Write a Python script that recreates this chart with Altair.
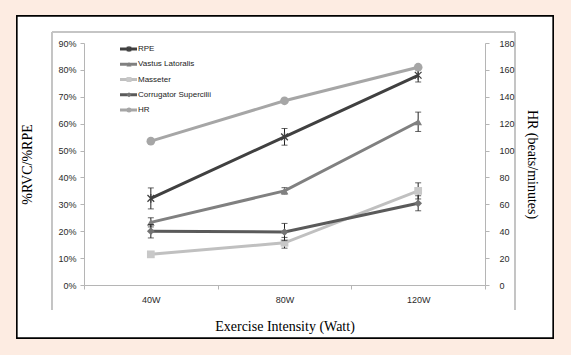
import altair as alt
import pandas as pd

categories = ["40W", "80W", "120W"]
left_series = ["RPE", "Vastus Latoralis", "Masseter", "Corrugator Supercilii"]
all_series = left_series + ["HR"]

rpe = [32.2, 55.1, 78.0]
rpe_err = [3.9, 3.1, 2.5]
vastus = [23.3, 35.0, 60.7]
vastus_err = [1.7, 1.2, 3.6]
masseter = [11.4, 15.7, 35.0]
masseter_err = [1.0, 2.0, 3.0]
corrugator = [20.0, 19.7, 30.4]
corrugator_err = [2.5, 3.2, 2.8]
hr = [107, 137, 162]

left_ticks = [0, 10, 20, 30, 40, 50, 60, 70, 80, 90]
right_ticks = [0, 20, 40, 60, 80, 100, 120, 140, 160, 180]

line_colors = ["#404040", "#808080", "#c0c0c0", "#5a5a5a", "#a6a6a6"]
marker_fills = ["#404040", "#808080", "#c8c8c8", "#737373", "#a6a6a6"]
marker_shapes = ["M-1,-1L1,1M-1,1L1,-1M0,-1.3L0,1.3", "triangle-up", "square", "diamond", "circle"]

rows = []
for name, vals, errs in zip(left_series, [rpe, vastus, masseter, corrugator],
                            [rpe_err, vastus_err, masseter_err, corrugator_err]):
    for c, v, e in zip(categories, vals, errs):
        rows.append({"series": name, "cat": c, "value": v, "lo": v - e, "hi": v + e})
df_left = pd.DataFrame(rows)
df_hr = pd.DataFrame({"series": "HR", "cat": categories, "value": hr})
df_leg = pd.DataFrame({"series": all_series, "idx": list(range(len(all_series)))})

W, H = 401, 242
PL, PT = 84, 43
LABEL_FONT = "Liberation Sans"
LABEL_COLOR = "#2a2a2a"

color_scale = alt.Scale(domain=all_series, range=line_colors)
x_axis = alt.Axis(title="Exercise Intensity (Watt)", tickBand="extent", labelAngle=0,
                  domainColor="#b5b5b5", tickColor="#b5b5b5", tickSize=4, zindex=1,
                  labelFont=LABEL_FONT, labelFontSize=9, labelColor=LABEL_COLOR,
                  labelPadding=6,
                  titleFont="Liberation Serif", titleFontSize=14, titleFontWeight="normal",
                  titleColor="#000000", titleX=W / 2, titleY=41, titleBaseline="middle")
x_scale = alt.Scale(type="band", domain=categories, paddingInner=0, paddingOuter=0)
xs = alt.X("cat:N", sort=categories, scale=x_scale, axis=x_axis)

y_left_scale = alt.Scale(domain=[0, 90])
y_left_axis = alt.Axis(values=left_ticks, labelExpr="datum.value + '%'", orient="left", grid=False,
                       title="%RVC/%RPE", titleFont="Liberation Serif", titleFontSize=14,
                       titleFontWeight="normal", titleColor="#000000", titleAngle=-90,
                       titleX=-57, titleY=H / 2, titleAlign="center", titleBaseline="middle",
                       domainColor="#b5b5b5", tickColor="#b5b5b5", tickSize=4, labelPadding=4,
                       zindex=1, labelOverlap=False,
                       labelFont=LABEL_FONT, labelFontSize=9, labelColor=LABEL_COLOR)
y_right_scale = alt.Scale(domain=[0, 180])
y_right_axis = alt.Axis(values=right_ticks, orient="right", grid=False,
                        title="HR (beats/minutes)", titleFont="Liberation Serif", titleFontSize=14,
                        titleFontWeight="normal", titleColor="#000000", titleAngle=90,
                        titleX=46, titleY=H / 2, titleAlign="center", titleBaseline="middle",
                        domainColor="#b5b5b5", tickColor="#b5b5b5", tickSize=4, labelPadding=10,
                        zindex=1, labelOverlap=False,
                        labelFont=LABEL_FONT, labelFontSize=9, labelColor=LABEL_COLOR)


def yl(field):
    return alt.Y(field, scale=y_left_scale, axis=y_left_axis)


def yr(field):
    return alt.Y(field, scale=y_right_scale, axis=y_right_axis)


# frame decoration
frame = alt.Chart(df_leg).mark_rect(fill="white", stroke="black", strokeWidth=1.3).encode(
    x=alt.value(17 - PL), x2=alt.value(553 - PL), y=alt.value(16 - PT), y2=alt.value(338 - PT))
inner_l = alt.Chart(df_leg).mark_rule(color="#c4c4c4", strokeWidth=1.2).encode(
    x=alt.value(52 - PL), y=alt.value(32 - PT), y2=alt.value(310 - PT))
inner_r = alt.Chart(df_leg).mark_rule(color="#c4c4c4", strokeWidth=1.2).encode(
    x=alt.value(515 - PL), y=alt.value(32 - PT), y2=alt.value(310 - PT))
inner_t = alt.Chart(df_leg).mark_rule(color="#c4c4c4", strokeWidth=1.2).encode(
    x=alt.value(52 - PL), x2=alt.value(515 - PL), y=alt.value(32 - PT))
frame_layer = alt.layer(frame, inner_l, inner_r, inner_t)

left_layers = []
for i, name in enumerate(left_series):
    base = alt.Chart(df_left).transform_filter(alt.datum.series == name)
    line = base.mark_line(strokeWidth=3).encode(
        x=xs, y=yl("value:Q"), color=alt.Color("series:N", scale=color_scale, legend=None))
    err = base.mark_rule(color="#222222", strokeWidth=1).encode(
        x=xs, y=yl("lo:Q"), y2="hi:Q")
    cap_lo = base.mark_tick(color="#222222", thickness=1, size=6).encode(x=xs, y=yl("lo:Q"))
    cap_hi = base.mark_tick(color="#222222", thickness=1, size=6).encode(x=xs, y=yl("hi:Q"))
    if i == 0:
        pt = base.mark_point(shape=marker_shapes[i], filled=False, stroke=marker_fills[i],
                             strokeWidth=1.3, size=45, opacity=1).encode(x=xs, y=yl("value:Q"))
    else:
        pt = base.mark_point(shape=marker_shapes[i], filled=True, fill=marker_fills[i],
                             size=60, opacity=1).encode(x=xs, y=yl("value:Q"))
    left_layers += [line, err, cap_lo, cap_hi, pt]
left_layer = alt.layer(*left_layers)

hr_line = alt.Chart(df_hr).mark_line(strokeWidth=3).encode(
    x=xs, y=yr("value:Q"), color=alt.Color("series:N", scale=color_scale, legend=None))
hr_pt = alt.Chart(df_hr).mark_point(shape="circle", filled=True, fill=marker_fills[4], size=75,
                                    opacity=1).encode(x=xs, y=yr("value:Q"))
hr_layer = alt.layer(hr_line, hr_pt)

leg_y = alt.Y("idx:Q", scale=alt.Scale(domain=[0, 4], range=[6, 67]), axis=None)
leg_layers = [alt.Chart(df_leg).mark_rule(strokeWidth=3).encode(
    x=alt.value(36), x2=alt.value(53), y=leg_y,
    color=alt.Color("series:N", scale=color_scale, legend=None))]
for i, name in enumerate(all_series):
    b = alt.Chart(df_leg).transform_filter(alt.datum.series == name)
    if i == 0:
        leg_layers.append(b.mark_point(shape=marker_shapes[i], filled=False, stroke=marker_fills[i],
                                       strokeWidth=1.2, size=20, opacity=1).encode(
            x=alt.value(45), y=leg_y))
    else:
        leg_layers.append(b.mark_point(shape=marker_shapes[i], filled=True, fill=marker_fills[i],
                                       size=25, opacity=1).encode(
            x=alt.value(45), y=leg_y))
leg_layers.append(alt.Chart(df_leg).mark_text(align="left", baseline="middle", font="Liberation Sans",
                                              fontSize=8, color="#222222").encode(
    x=alt.value(54), y=leg_y, text="series:N"))
legend_layer = alt.layer(*leg_layers)

chart = alt.layer(frame_layer, left_layer, hr_layer, legend_layer).resolve_scale(
    y="independent").properties(
    width=W, height=H,
    autosize=alt.AutoSizeParams(type="none"),
    padding={"left": PL, "top": PT, "right": 571 - PL - W, "bottom": 355 - PT - H},
    background="#fdece2",
).configure_view(stroke=None)

chart.save("out.html", embed_options={"renderer": "svg", "actions": False})
